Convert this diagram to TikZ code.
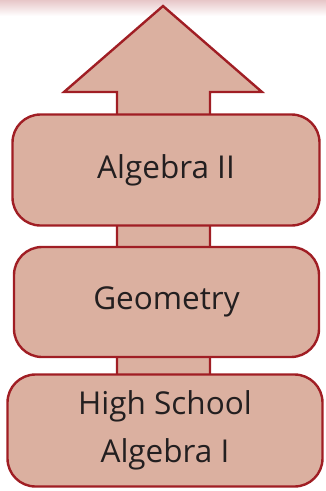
\documentclass[tikz,border=0pt]{standalone}
\usepackage{fontspec}
\setmainfont{Open Sans}
\usepackage{tikz}
\usetikzlibrary{positioning}
\definecolor{boxfill}{HTML}{DBB0A0}
\definecolor{boxline}{HTML}{A01E24}
\definecolor{boxtext}{HTML}{231F20}

\begin{document}
\begin{tikzpicture}[
    x=1pt, y=-1pt,
    font=\fontsize{31.5}{48}\selectfont,
    level/.style={
        draw=boxline,
        fill=boxfill,
        text=boxtext,
        line width=2.4pt,
        rounded corners=28pt,
        align=center
    },
    arrowbody/.style={
        draw=boxline,
        fill=boxfill,
        line width=2.4pt,
        line join=miter
    }
]
\useasboundingbox (0,0) rectangle (326,491);

% --- Faint band at the top
\shade[top color=boxline!25, bottom color=white] (0,0) rectangle (326,16);

% --- Arrow behind the boxes
\draw[arrowbody] (163,6) -- (262,92) -- (210,92) -- (210,380)
    -- (117,380) -- (117,92) -- (64,92) -- cycle;

% --- Algebra II
\node[level, minimum width=307pt, minimum height=111pt] (algtwo) at (166,170) {Algebra II};

% --- Geometry
\node[level, minimum width=305pt, minimum height=110pt] (geometry) at (166.5,302) {Geometry};

% --- High School Algebra I
\node[level, minimum width=315pt, minimum height=112pt] (algone) at (165,430.5) {High School\\Algebra I};

\end{tikzpicture}
\end{document}
